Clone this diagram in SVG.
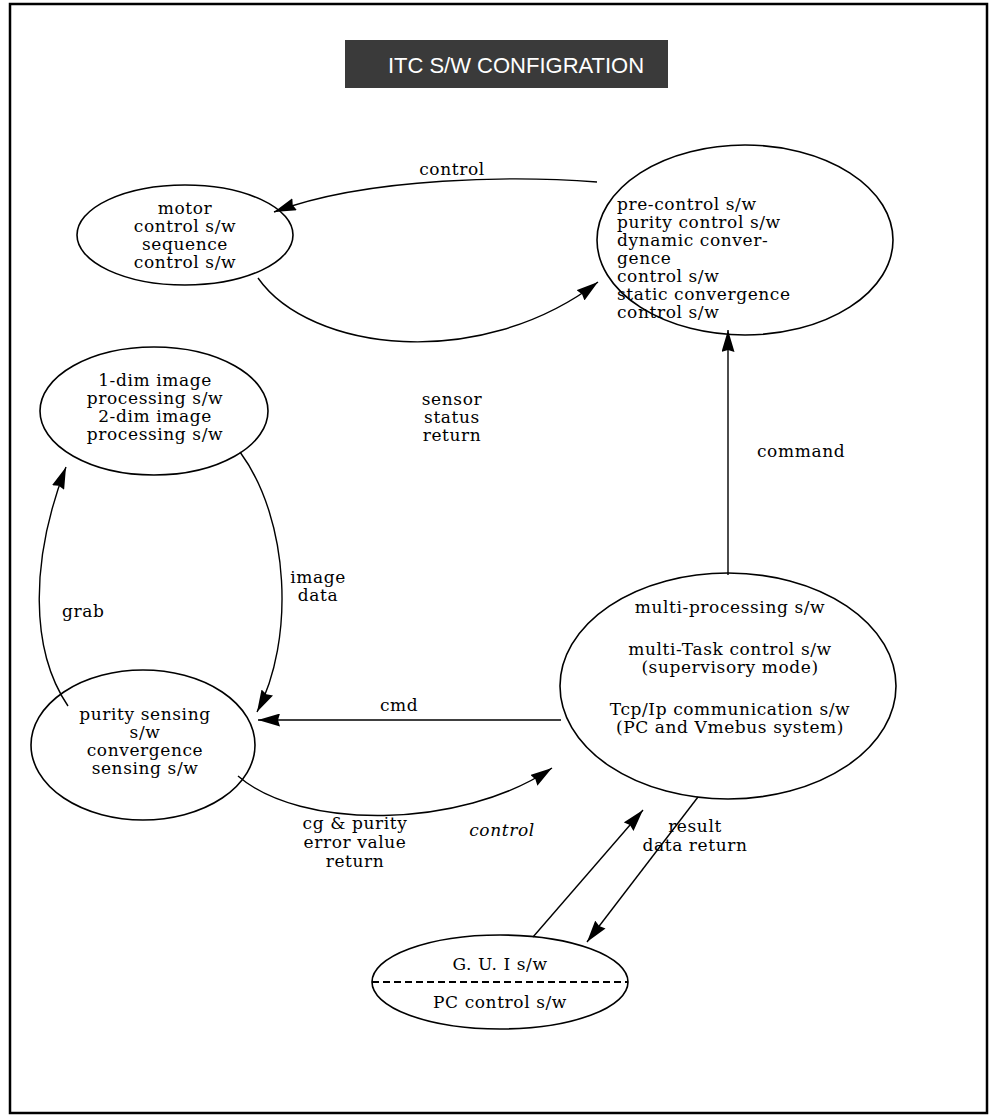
<svg xmlns="http://www.w3.org/2000/svg" width="990" height="1118" viewBox="0 0 990 1118">
<style>
.t{font-family:"DejaVu Serif","Liberation Serif",serif;font-size:17px;letter-spacing:0.6px;fill:#000;text-anchor:middle}
.l{text-anchor:start}
.n{fill:none;stroke:#000;stroke-width:1.6}
.c{fill:none;stroke:#000;stroke-width:1.4}
</style>
<defs>
<marker id="ah" viewBox="0 0 22 13" refX="22" refY="6.5" markerWidth="22" markerHeight="13" markerUnits="userSpaceOnUse" orient="auto">
<path d="M0,0 L22,6.5 L0,13 L2,6.5 Z" fill="#000"/>
</marker>
</defs>
<rect x="0" y="0" width="990" height="1118" fill="#fff"/>
<rect x="10" y="4" width="977" height="1109" fill="none" stroke="#000" stroke-width="2.5"/>
<g id="title">
<rect x="345" y="40" width="323" height="48" fill="#3a3a3a"/>
<text x="516" y="73" style="font-family:'Liberation Sans',Arial,sans-serif;font-size:22px;fill:#fff;text-anchor:middle">ITC S/W CONFIGRATION</text>
</g>
<g id="connectors">
<path class="c" d="M597,182 C520,176 370,176 274,212" marker-end="url(#ah)"/>
<path class="c" d="M258,278 C310,352 480,372 598,282" marker-end="url(#ah)"/>
<path class="c" d="M728,575 L728,330" marker-end="url(#ah)"/>
<path class="c" d="M68,706 C30,650 30,560 66,467" marker-end="url(#ah)"/>
<path class="c" d="M240,452 C290,520 295,640 257,712" marker-end="url(#ah)"/>
<path class="c" d="M561,720 L258,720" marker-end="url(#ah)"/>
<path class="c" d="M238,776 C300,830 460,830 552,768" marker-end="url(#ah)"/>
<path class="c" d="M533,937 L643,810" marker-end="url(#ah)"/>
<path class="c" d="M698,797 L587,942" marker-end="url(#ah)"/>
<text class="t" x="452" y="175">control</text>
<text class="t" x="452" y="405">sensor</text>
<text class="t" x="452" y="423">status</text>
<text class="t" x="452" y="441">return</text>
<text class="t l" x="757" y="457">command</text>
<text class="t l" x="62" y="617">grab</text>
<text class="t" x="318" y="583">image</text>
<text class="t" x="318" y="601">data</text>
<text class="t l" x="380" y="711">cmd</text>
<text class="t" x="355" y="829">cg &amp; purity</text>
<text class="t" x="355" y="848">error value</text>
<text class="t" x="355" y="867">return</text>
<text class="t" x="502" y="836" style="font-style:italic">control</text>
<text class="t" x="695" y="832">result</text>
<text class="t" x="695" y="851">data return</text>
</g>
<g id="motor">
<ellipse class="n" cx="185" cy="235" rx="108" ry="50"/>
<text class="t" x="185" y="214">motor</text>
<text class="t" x="185" y="232">control s/w</text>
<text class="t" x="185" y="250">sequence</text>
<text class="t" x="185" y="268">control s/w</text>
</g>
<g id="precontrol">
<ellipse class="n" cx="745" cy="240" rx="148" ry="95"/>
<text class="t l" x="617" y="210">pre-control s/w</text>
<text class="t l" x="617" y="228">purity control s/w</text>
<text class="t l" x="617" y="246">dynamic  conver-</text>
<text class="t l" x="617" y="264">gence</text>
<text class="t l" x="617" y="282">control s/w</text>
<text class="t l" x="617" y="300">static convergence</text>
<text class="t l" x="617" y="318">control s/w</text>
</g>
<g id="imageproc">
<ellipse class="n" cx="154" cy="411" rx="114" ry="64"/>
<text class="t" x="155" y="386">1-dim image</text>
<text class="t" x="155" y="404">processing s/w</text>
<text class="t" x="155" y="422">2-dim image</text>
<text class="t" x="155" y="440">processing s/w</text>
</g>
<g id="multiproc">
<ellipse class="n" cx="728" cy="686" rx="168" ry="113"/>
<text class="t" x="730" y="613">multi-processing s/w</text>
<text class="t" x="730" y="655">multi-Task control s/w</text>
<text class="t" x="730" y="673">(supervisory mode)</text>
<text class="t" x="730" y="715">Tcp/Ip communication s/w</text>
<text class="t" x="730" y="733">(PC and Vmebus system)</text>
</g>
<g id="sensing">
<ellipse class="n" cx="143" cy="745" rx="112" ry="75"/>
<text class="t" x="145" y="720">purity sensing</text>
<text class="t" x="145" y="738">s/w</text>
<text class="t" x="145" y="756">convergence</text>
<text class="t" x="145" y="774">sensing s/w</text>
</g>
<g id="gui">
<ellipse class="n" cx="500" cy="982" rx="128" ry="47"/>
<line x1="372" y1="982" x2="628" y2="982" stroke="#000" stroke-width="1.8" stroke-dasharray="7,4"/>
<text class="t" x="500" y="970">G. U. I s/w</text>
<text class="t" x="500" y="1008">PC control s/w</text>
</g>
</svg>
